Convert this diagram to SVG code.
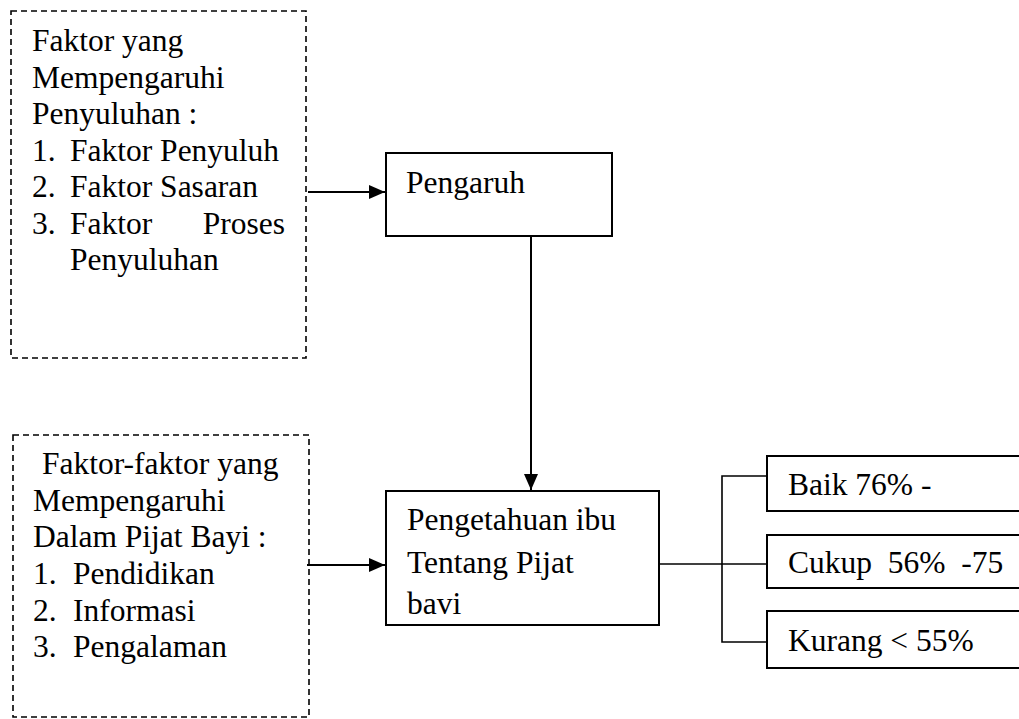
<svg xmlns="http://www.w3.org/2000/svg" width="1019" height="719" viewBox="0 0 1019 719">
<style>
text{font-family:'Liberation Serif','Tinos','DejaVu Serif',serif;font-size:31.5px;fill:#000}
.dash{fill:none;stroke:#000;stroke-width:1.6;stroke-dasharray:6 4}
.box{fill:#fff;stroke:#000;stroke-width:2}
.ln{fill:none;stroke:#000;stroke-width:2}
.thin{fill:none;stroke:#000;stroke-width:1.6}
</style>
<defs>
<marker id="ah" viewBox="0 0 16 14" refX="16" refY="7" markerWidth="16" markerHeight="14" markerUnits="userSpaceOnUse" orient="auto">
<path d="M0,0 L16,7 L0,14 Z" fill="#000"/>
</marker>
</defs>
<rect width="1019" height="719" fill="#fff"/>
<g id="connectors">
<line class="ln" x1="308" y1="192" x2="385" y2="192" marker-end="url(#ah)"/>
<line class="ln" x1="531" y1="236" x2="531" y2="490" marker-end="url(#ah)"/>
<line class="ln" x1="307" y1="565" x2="385" y2="565" marker-end="url(#ah)"/>
<line class="thin" x1="659" y1="564" x2="767" y2="564"/>
<polyline class="thin" points="767,476 722,476 722,642 767,642"/>
</g>
<g id="faktor-penyuluhan">
<rect class="dash" x="11" y="11" width="295" height="347"/>
<text x="32" y="51">Faktor yang</text>
<text x="32" y="88">Mempengaruhi</text>
<text x="32" y="124">Penyuluhan :</text>
<text x="32" y="161">1.</text><text x="70" y="161">Faktor Penyuluh</text>
<text x="32" y="197">2.</text><text x="70" y="197">Faktor Sasaran</text>
<text x="32" y="234">3.</text><text x="70" y="234">Faktor</text><text x="285" y="234" text-anchor="end">Proses</text>
<text x="70" y="270">Penyuluhan</text>
</g>
<g id="pengaruh">
<rect class="box" x="386" y="153" width="226" height="83"/>
<text x="406" y="193">Pengaruh</text>
</g>
<g id="faktor-pijat">
<rect class="dash" x="13" y="435" width="296" height="282"/>
<text x="42" y="474">Faktor-faktor yang</text>
<text x="33" y="511">Mempengaruhi</text>
<text x="33" y="547">Dalam Pijat Bayi :</text>
<text x="33" y="584">1.</text><text x="73" y="584">Pendidikan</text>
<text x="33" y="621">2.</text><text x="73" y="621">Informasi</text>
<text x="33" y="657">3.</text><text x="73" y="657">Pengalaman</text>
</g>
<g id="pengetahuan">
<rect class="box" x="386" y="491" width="273" height="134"/>
<text x="407" y="530">Pengetahuan ibu</text>
<text x="407" y="573">Tentang Pijat</text>
<text x="407" y="614">bavi</text>
</g>
<g id="baik">
<rect class="box" x="767" y="456" width="270" height="55"/>
<text x="788" y="495">Baik 76% -</text>
</g>
<g id="cukup">
<rect class="box" x="767" y="535" width="270" height="53"/>
<text x="788" y="573" xml:space="preserve">Cukup  56%  -75</text>
</g>
<g id="kurang">
<rect class="box" x="767" y="611" width="270" height="57"/>
<text x="788" y="651">Kurang &lt; 55%</text>
</g>
</svg>
